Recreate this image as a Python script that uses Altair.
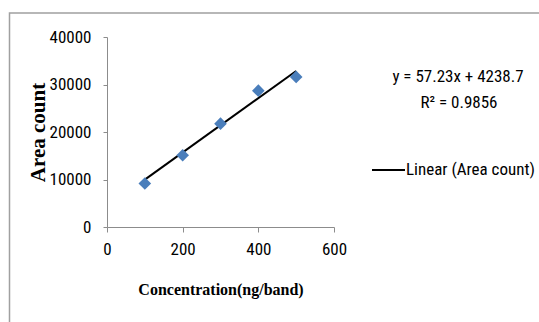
import altair as alt
import pandas as pd

# Calibration standards: concentration (ng/band) and measured area count
concentration = [100, 200, 300, 400, 500]
area_count = [9150, 15100, 21750, 28700, 31600]

# Least-squares trend line reported with the calibration
slope = 57.23
intercept = 4238.7
r_squared = 0.9856
equation_text = f"y = {slope}x + {intercept}"
r2_text = f"R\u00b2 = {r_squared}"
legend_label = "Linear (Area count)"

x_ticks = [0, 200, 400, 600]
y_ticks = [0, 10000, 20000, 30000, 40000]

points = pd.DataFrame({"conc": concentration, "area": area_count})
trend = pd.DataFrame({
    "conc": [concentration[0], concentration[-1]],
    "area": [slope * concentration[0] + intercept, slope * concentration[-1] + intercept],
})

SANS = "Roboto Condensed, DejaVu Sans Condensed, sans-serif"
SERIF = "Liberation Serif, Times New Roman, serif"
AXIS_GREY = "#8c8c8c"

x_enc = alt.X(
    "conc:Q",
    scale=alt.Scale(domain=[0, 600], nice=False),
    axis=alt.Axis(
        values=x_ticks, format="d", title="Concentration(ng/band)",
        titleFont=SERIF, titleFontSize=16, titleFontWeight="bold", titleColor="black",
        titleY=62, titleBaseline="middle",
        labelFont=SANS, labelFontSize=17, labelColor="black", labelPadding=9,
        labelFlush=False, labelOverlap=False,
        tickSize=5, tickColor=AXIS_GREY, domainColor=AXIS_GREY, grid=False,
    ),
)
y_enc = alt.Y(
    "area:Q",
    scale=alt.Scale(domain=[0, 40000], nice=False),
    axis=alt.Axis(
        values=y_ticks, format="d", title="Area count",
        titleFont=SERIF, titleFontSize=21, titleFontWeight="bold", titleColor="black",
        titleX=-69, titleBaseline="middle",
        labelFont=SANS, labelFontSize=17, labelColor="black", labelPadding=12,
        labelOverlap=False,
        tickSize=4, tickColor=AXIS_GREY, domainColor=AXIS_GREY, grid=False,
    ),
)

scatter = alt.Chart(points).mark_point(
    shape="diamond", filled=True, size=160, color="#4a7ebb", opacity=1
).encode(x=x_enc, y=y_enc)

line = alt.Chart(trend).mark_line(color="black", strokeWidth=2).encode(
    x="conc:Q", y="area:Q"
)

# Outer frame around the whole figure
frame = alt.Chart(pd.DataFrame({"k": [0]})).mark_rect(
    fill=None, stroke="#a0a0a0", strokeWidth=1.5
).encode(
    x=alt.value(-97.5), x2=alt.value(460),
    y=alt.value(-24), y2=alt.value(320),
)

eq = alt.Chart(pd.DataFrame({"t": [equation_text]})).mark_text(
    font=SANS, fontSize=17, color="black", align="center", baseline="middle"
).encode(text="t:N", x=alt.value(351), y=alt.value(40))
r2 = alt.Chart(pd.DataFrame({"t": [r2_text]})).mark_text(
    font=SANS, fontSize=17, color="black", align="center", baseline="middle"
).encode(text="t:N", x=alt.value(352), y=alt.value(66))

legend_line = alt.Chart(pd.DataFrame({"k": [0]})).mark_rule(
    color="black", strokeWidth=2
).encode(x=alt.value(265), x2=alt.value(298), y=alt.value(133))
legend_text = alt.Chart(pd.DataFrame({"t": [legend_label]})).mark_text(
    font=SANS, fontSize=17, color="black", align="left", baseline="middle"
).encode(text="t:N", x=alt.value(299), y=alt.value(133))

chart = alt.layer(frame, line, scatter, eq, r2, legend_line, legend_text).properties(
    width=227,
    height=190,
    padding={"left": 107, "top": 37, "right": 205, "bottom": 95},
    autosize=alt.AutoSizeParams(type="none"),
    background="white",
).configure_view(stroke=None)

chart.save("out.html", embed_options={"renderer": "svg", "actions": False})
